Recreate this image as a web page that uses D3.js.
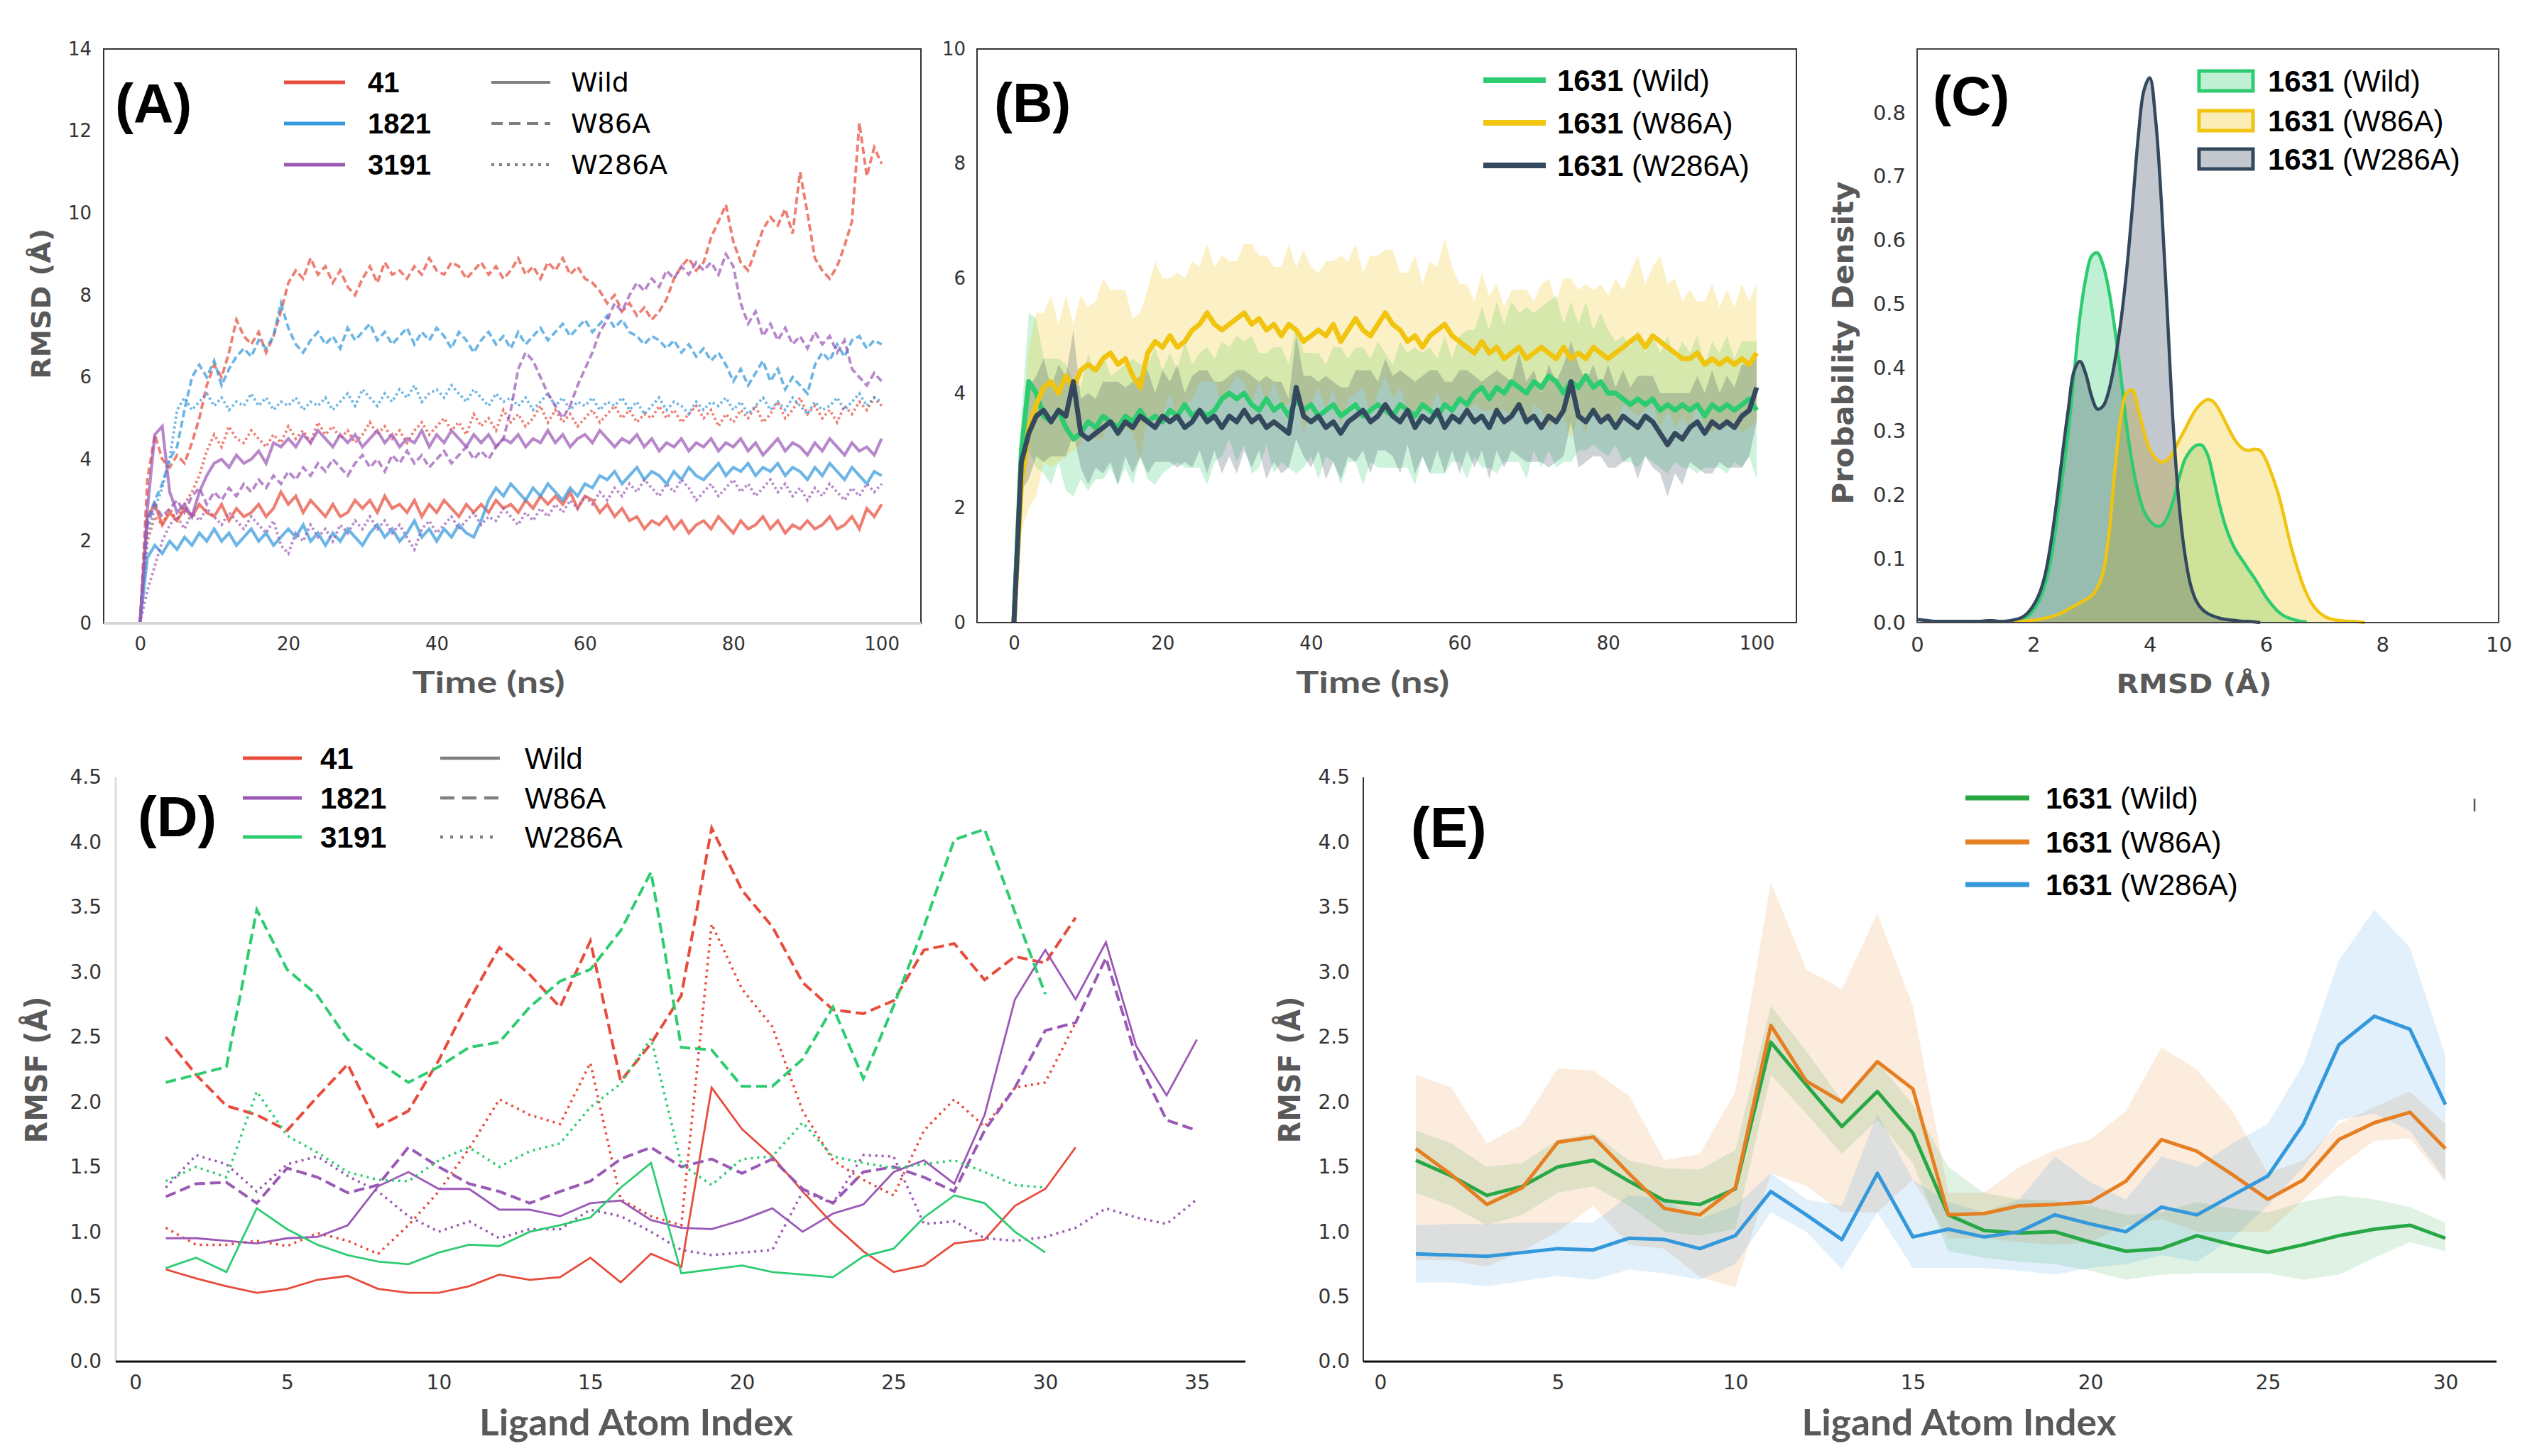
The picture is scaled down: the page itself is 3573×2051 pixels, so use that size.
<!DOCTYPE html>
<html>
<head>
<meta charset="utf-8">
<title>RMSD / RMSF panels</title>
<script src="https://cdn.jsdelivr.net/npm/d3@7"></script>
<style>
  html, body { margin: 0; padding: 0; background: #fff; }
  svg { display: block; }
</style>
</head>
<body>
<svg id="fig" width="3573" height="2051"></svg>
<script>
// ---------------- data ----------------
// (A) ligand RMSD, 1 ns steps, 0..100 ns
var timeNs = d3.range(0, 101);
var rmsd41Wild = [0,
 2.6,2.9,2.4,2.7,2.5,2.8,2.6,2.9,2.7,2.6, 2.9,2.5,2.8,2.6,2.7,2.9,2.6,2.8,3.2,2.9,
 3.1,2.7,3.0,2.8,2.6,2.9,2.6,2.7,3.0,2.8, 3.0,2.7,3.1,2.8,2.9,2.7,3.0,2.6,2.9,2.7,
 3.0,2.8,2.6,2.9,2.7,2.9,2.7,3.0,2.8,2.9, 2.7,3.0,2.8,3.1,2.9,3.1,2.9,3.2,2.8,3.1,
 3.0,2.7,2.9,2.6,2.8,2.5,2.6,2.3,2.5,2.4, 2.6,2.3,2.5,2.2,2.4,2.5,2.3,2.6,2.4,2.2,
 2.5,2.3,2.4,2.6,2.3,2.5,2.2,2.4,2.3,2.5, 2.3,2.4,2.6,2.3,2.4,2.6,2.3,2.8,2.6,2.9];
var rmsd41W86A = [0,
 3.5,4.6,4.0,3.8,4.1,3.9,4.4,5.0,5.8,6.3, 6.0,6.6,7.4,7.0,6.8,7.1,6.6,7.0,7.6,8.3,
 8.6,8.4,8.9,8.5,8.7,8.3,8.6,8.2,8.0,8.4, 8.7,8.3,8.8,8.5,8.6,8.4,8.7,8.5,8.9,8.6,
 8.5,8.8,8.7,8.4,8.6,8.8,8.5,8.7,8.4,8.6, 8.9,8.5,8.7,8.4,8.8,8.6,8.9,8.5,8.7,8.4,
 8.3,8.1,7.8,8.0,7.6,7.8,7.5,7.7,7.4,7.6, 7.9,8.4,8.7,8.9,8.6,8.8,9.4,9.8,10.2,9.3,
 8.8,8.6,9.1,9.6,9.9,9.7,10.1,9.5,11.0,10.0, 8.9,8.6,8.4,8.7,9.2,9.8,12.2,10.9,11.6,11.2];
var rmsd41W286A = [0,
 2.0,2.6,2.4,2.8,2.5,2.9,3.2,3.6,4.2,4.6, 4.3,4.8,4.5,4.4,4.7,4.5,4.3,4.6,4.4,4.8,
 4.5,4.7,4.4,4.9,4.6,4.8,4.5,4.7,4.4,4.6, 4.9,4.6,4.8,4.5,4.7,4.4,4.7,4.9,4.6,4.8,
 5.0,4.7,4.9,4.6,5.1,4.8,5.0,4.7,5.2,4.9, 5.1,4.8,5.0,5.3,4.9,5.2,4.9,5.1,4.8,5.0,
 5.2,4.9,5.1,5.3,5.0,5.2,4.9,5.1,5.0,5.3, 5.0,5.2,4.9,5.1,5.3,5.0,5.2,4.8,5.1,4.9,
 5.2,5.0,5.3,4.9,5.1,5.4,5.0,5.2,5.5,5.1, 5.3,5.0,5.2,4.9,5.3,5.1,5.4,5.2,5.5,5.3];
var rmsd1821Wild = [0,
 1.6,1.9,1.7,2.0,1.8,2.1,1.9,2.2,2.0,2.3, 2.0,2.2,1.9,2.1,2.3,2.0,2.2,1.9,2.1,2.3,
 2.1,2.4,2.0,2.2,1.9,2.2,2.0,2.3,2.1,1.9, 2.2,2.4,2.1,2.3,2.0,2.2,2.5,2.1,2.3,2.0,
 2.3,2.1,2.4,2.2,2.1,2.5,3.0,3.3,3.1,3.4, 3.2,3.0,3.3,3.1,3.4,3.2,3.0,3.3,3.1,3.4,
 3.3,3.6,3.5,3.7,3.4,3.6,3.8,3.5,3.7,3.6, 3.4,3.7,3.5,3.8,3.6,3.5,3.7,3.9,3.6,3.8,
 3.7,3.9,3.6,3.8,3.7,3.9,3.6,3.8,3.7,3.5, 3.8,3.6,3.9,3.7,3.5,3.8,3.6,3.4,3.7,3.6];
var rmsd1821W86A = [0,
 2.5,3.0,3.4,4.0,4.3,5.2,6.0,6.3,6.0,6.4, 5.8,6.2,6.5,6.7,6.5,6.9,6.7,7.0,7.8,7.2,
 6.8,6.6,6.9,7.1,6.8,7.0,6.7,7.2,6.9,7.1, 7.3,6.9,7.1,6.8,7.0,7.2,6.8,7.1,6.9,7.2,
 7.0,6.7,7.1,6.9,6.6,6.9,7.1,6.8,7.0,6.7, 7.1,6.8,7.0,7.2,6.9,7.1,7.3,7.0,7.2,7.4,
 7.1,7.3,7.5,7.2,7.4,7.1,7.0,6.8,7.0,6.9, 6.7,6.9,6.6,6.8,6.5,6.7,6.4,6.6,6.3,5.9,
 6.2,5.8,6.1,6.4,5.9,6.2,5.7,6.0,5.8,5.6, 6.3,6.6,6.4,6.8,6.5,6.9,7.0,6.7,6.9,6.8];
var rmsd1821W286A = [0,
 2.2,2.8,3.3,4.0,5.2,5.5,5.2,5.4,5.6,5.3, 5.5,5.2,5.4,5.3,5.6,5.3,5.5,5.2,5.4,5.3,
 5.5,5.2,5.4,5.3,5.5,5.2,5.4,5.6,5.3,5.7, 5.5,5.3,5.6,5.4,5.7,5.5,5.8,5.4,5.6,5.7,
 5.5,5.8,5.6,5.4,5.7,5.5,5.3,5.6,5.4,5.5, 5.3,5.5,5.2,5.4,5.6,5.3,5.5,5.2,5.4,5.3,
 5.5,5.2,5.4,5.3,5.5,5.2,5.4,5.1,5.3,5.5, 5.2,5.4,5.3,5.1,5.4,5.2,5.4,5.3,5.5,5.2,
 5.4,5.1,5.3,5.5,5.2,5.4,5.2,5.5,5.3,5.1, 5.4,5.2,5.3,5.5,5.2,5.4,5.6,5.3,5.5,5.4];
var rmsd3191Wild = [0,
 2.8,4.6,4.8,3.2,2.7,2.9,2.6,3.2,3.6,3.9, 4.0,3.8,4.1,3.9,4.0,4.2,3.9,4.4,4.3,4.5,
 4.3,4.6,4.4,4.7,4.5,4.3,4.6,4.4,4.6,4.3, 4.5,4.7,4.4,4.6,4.3,4.5,4.4,4.7,4.3,4.6,
 4.4,4.7,4.5,4.3,4.6,4.4,4.6,4.3,4.5,4.4, 4.6,4.3,4.5,4.4,4.7,4.4,4.6,4.3,4.5,4.6,
 4.4,4.7,4.5,4.3,4.5,4.4,4.6,4.3,4.5,4.2, 4.4,4.3,4.5,4.2,4.4,4.3,4.5,4.2,4.4,4.3,
 4.5,4.2,4.4,4.1,4.3,4.5,4.2,4.4,4.3,4.1, 4.4,4.2,4.5,4.3,4.1,4.4,4.2,4.3,4.1,4.5];
var rmsd3191W86A = [0,
 2.4,2.9,2.6,2.8,3.0,2.7,3.1,3.3,2.9,3.2, 3.0,3.3,3.1,3.4,3.2,3.5,3.3,3.6,3.4,3.7,
 3.5,3.8,3.6,3.9,3.7,4.0,3.8,3.6,3.9,4.1, 3.8,4.0,3.7,4.1,3.9,4.2,3.9,4.1,3.8,4.0,
 4.2,3.9,4.1,4.3,4.0,4.2,4.0,4.3,4.5,5.2, 6.2,6.6,6.4,6.0,5.6,5.3,5.0,5.3,5.8,6.2,
 6.6,7.1,7.4,7.8,7.6,8.0,8.3,8.1,8.4,8.2, 8.6,8.4,8.7,8.5,8.8,8.6,8.8,8.5,9.0,8.7,
 7.8,7.3,7.6,7.0,7.3,6.9,7.2,6.8,7.0,6.7, 7.1,6.8,7.0,6.6,6.9,6.2,6.0,5.8,6.1,5.9];
var rmsd3191W286A = [0,
 0.8,1.4,2.0,2.4,2.6,2.3,2.7,2.5,2.8,2.6, 2.4,2.7,2.5,2.3,2.6,2.4,2.2,2.5,1.9,1.7,
 2.2,2.0,2.4,2.1,2.3,2.0,2.4,2.2,2.5,2.3, 2.6,2.3,2.5,2.2,2.4,2.1,1.8,2.3,2.5,2.2,
 2.4,2.6,2.3,2.5,2.7,2.4,2.6,2.5,2.8,2.6, 2.4,2.7,2.5,2.8,2.6,2.9,2.7,3.0,2.8,3.1,
 2.9,3.2,3.0,3.3,3.1,3.4,3.2,3.5,3.3,3.1, 3.4,3.2,3.5,3.3,3.0,3.2,3.4,3.1,3.3,3.5,
 3.2,3.4,3.1,3.3,3.5,3.2,3.4,3.1,3.3,3.0, 3.3,3.1,3.4,3.2,3.0,3.3,3.1,3.4,3.2,3.4];

// (B) 1631 RMSD mean and spread
var wildMean = [0,
 3.0,4.2,4.0,3.6,3.5,3.7,3.4,3.2,3.3,3.5, 3.4,3.6,3.5,3.4,3.6,3.5,3.7,3.5,3.6,3.5,
 3.7,3.6,3.8,3.6,3.7,3.6,3.7,3.9,4.0,3.9, 4.0,3.8,3.7,3.9,3.7,3.8,3.6,3.9,3.7,3.8,
 3.6,3.7,3.8,3.6,3.7,3.8,3.6,3.7,3.8,3.7, 3.6,3.8,3.7,3.6,3.8,3.7,3.6,3.8,3.7,3.9,
 3.8,4.0,4.1,3.9,4.1,4.0,4.2,4.1,4.0,4.2, 4.1,4.3,4.2,4.0,4.2,4.1,4.3,4.1,4.2,4.0,
 4.0,3.9,3.8,3.9,3.8,3.9,3.7,3.8,3.7,3.8, 3.7,3.8,3.6,3.8,3.7,3.8,3.7,3.8,3.9,3.7];
var wildSd = [0,
 0.6,1.2,1.3,1.0,1.1,0.9,1.1,1.0,0.8,1.2, 0.9,1.1,0.8,1.0,0.9,1.1,0.8,1.0,1.2,0.9,
 1.0,0.8,1.1,0.9,1.0,1.2,0.9,1.0,0.8,1.1, 0.9,1.2,1.0,0.8,1.1,1.0,0.9,1.3,1.0,0.9,
 1.1,0.8,1.0,1.2,0.9,1.0,1.2,0.9,1.1,1.0, 0.9,1.1,1.0,1.2,0.9,1.1,1.0,1.2,0.9,1.1,
 1.3,1.1,1.4,1.2,1.5,1.2,1.4,1.3,1.5,1.2, 1.4,1.3,1.5,1.2,1.4,1.1,1.3,1.0,1.2,1.1,
 0.9,1.1,1.0,1.2,0.9,1.1,1.0,1.2,0.9,1.1, 1.0,1.2,0.9,1.1,1.0,1.2,0.9,1.1,1.0,1.2];
var w86aMean = [0,
 2.4,3.4,3.8,4.1,4.2,4.0,4.3,4.1,4.4,4.5, 4.4,4.6,4.7,4.5,4.6,4.3,4.1,4.7,4.9,4.8,
 5.0,4.8,4.9,5.1,5.2,5.4,5.2,5.1,5.2,5.3, 5.4,5.2,5.3,5.1,5.2,5.0,5.2,5.1,4.9,5.0,
 5.1,5.0,5.2,4.9,5.1,5.3,5.1,5.0,5.2,5.4, 5.2,5.1,4.9,5.0,4.8,5.0,5.1,5.2,5.0,4.9,
 4.8,4.7,4.9,4.7,4.8,4.6,4.7,4.8,4.6,4.7, 4.8,4.7,4.6,4.8,4.6,4.7,4.6,4.8,4.7,4.6,
 4.7,4.8,4.9,5.0,4.8,5.0,4.9,4.8,4.7,4.6, 4.6,4.7,4.5,4.6,4.5,4.6,4.5,4.6,4.5,4.7];
var w86aSd = [0,
 0.8,1.4,1.6,1.3,1.5,1.2,1.4,1.1,1.3,1.0, 1.2,1.4,1.1,1.3,1.2,1.0,1.3,1.1,1.4,1.2,
 1.0,1.3,1.1,1.2,1.0,1.2,1.0,1.3,1.1,1.0, 1.2,1.4,1.1,1.3,1.0,1.2,1.4,1.1,1.6,1.2,
 1.0,1.3,1.1,1.5,1.2,1.3,1.0,1.4,1.2,1.1, 1.3,1.0,1.2,1.4,1.1,1.3,1.1,1.5,1.2,1.0,
 1.1,0.9,1.2,1.0,1.1,0.9,1.1,1.0,1.2,0.9, 1.1,1.3,1.0,1.2,1.4,1.1,1.3,1.0,1.2,1.1,
 1.3,1.0,1.2,1.4,1.1,1.2,1.5,1.1,1.3,1.0, 1.2,0.9,1.1,1.3,1.0,1.2,1.0,1.3,1.1,1.2];
var w286aMean = [0,
 2.8,3.3,3.6,3.7,3.5,3.7,3.6,4.2,3.3,3.2, 3.3,3.4,3.5,3.3,3.5,3.4,3.6,3.5,3.4,3.6,
 3.5,3.6,3.4,3.5,3.7,3.5,3.6,3.4,3.6,3.5, 3.7,3.5,3.6,3.4,3.5,3.4,3.3,4.1,3.6,3.5,
 3.6,3.4,3.5,3.3,3.5,3.6,3.7,3.5,3.6,3.8, 3.6,3.5,3.7,3.4,3.6,3.5,3.7,3.4,3.6,3.5,
 3.7,3.5,3.6,3.4,3.7,3.5,3.6,3.8,3.5,3.6, 3.4,3.6,3.5,3.7,4.2,3.6,3.5,3.7,3.5,3.6,
 3.4,3.6,3.5,3.4,3.6,3.5,3.3,3.1,3.3,3.2, 3.4,3.5,3.3,3.5,3.4,3.5,3.4,3.6,3.7,4.1];
var w286aSd = [0,
 0.5,0.8,0.7,0.9,0.6,0.8,0.7,0.9,0.6,0.8, 0.6,0.8,0.7,0.9,0.6,0.8,0.7,0.9,0.6,0.8,
 0.7,0.9,0.6,0.8,0.7,0.9,0.6,0.8,0.7,0.9, 0.7,0.8,0.6,0.9,0.7,0.8,0.6,0.9,0.7,0.8,
 0.6,0.9,0.7,0.8,0.6,0.8,0.7,0.9,0.6,0.8, 0.7,0.9,0.6,0.8,0.7,0.9,0.7,0.8,0.6,0.9,
 0.7,0.8,0.6,0.9,0.7,0.8,0.6,0.9,0.7,0.8, 0.6,0.9,0.7,0.8,0.7,0.9,0.7,0.8,0.6,0.9,
 0.7,0.8,0.6,0.9,0.7,0.8,0.7,0.9,0.7,0.8, 0.6,0.8,0.7,0.9,0.6,0.8,0.7,0.9,0.8,0.6];

// (C) RMSD density, grid 0..8 A in 0.1 steps (null = outside curve)
var kdeGrid = d3.range(0, 81).map(function(i) { return i / 10; });
var kdeWild = [
 null,null,null,null,null,null,null,null,null,null,
 null,null,null,null,null,null,null,0.002,0.005,0.01,
 0.02,0.035,0.06,0.10,0.16,0.23,0.30,0.39,0.48,0.54,
 0.575,0.58,0.56,0.52,0.46,0.39,0.31,0.25,0.205,0.175,
 0.16,0.152,0.152,0.165,0.19,0.225,0.255,0.27,0.278,0.278,
 0.262,0.225,0.185,0.152,0.128,0.11,0.097,0.083,0.07,0.055,
 0.04,0.028,0.018,0.011,0.007,0.004,0.002,0.001,null,null,
 null,null,null,null,null,null,null,null,null,null, null];
var kdeW86A = [
 null,null,null,null,null,null,null,null,null,0.001,
 0.002,0.002,0.002,0.002,0.002,0.002,0.002,0.002,0.002,0.003,
 0.004,0.005,0.007,0.009,0.012,0.016,0.021,0.026,0.031,0.036,
 0.042,0.055,0.08,0.14,0.24,0.32,0.36,0.365,0.335,0.30,
 0.272,0.258,0.252,0.255,0.267,0.285,0.302,0.32,0.335,0.345,
 0.35,0.346,0.333,0.315,0.297,0.282,0.273,0.27,0.272,0.27,
 0.255,0.232,0.205,0.17,0.13,0.097,0.068,0.045,0.028,0.017,
 0.01,0.006,0.004,0.003,0.002,0.002,0.001,0,null,null, null];
var kdeW286A = [
 0.005,0.004,0.003,0.002,0.002,0.002,0.002,0.002,0.002,0.002,
 0.002,0.002,0.003,0.003,0.002,0.002,0.003,0.005,0.008,0.015,
 0.027,0.045,0.075,0.125,0.19,0.265,0.335,0.395,0.41,0.39,
 0.355,0.335,0.34,0.365,0.41,0.47,0.55,0.65,0.76,0.835,
 0.855,0.79,0.66,0.49,0.315,0.19,0.11,0.06,0.034,0.021,
 0.014,0.01,0.007,0.005,0.004,0.003,0.002,0.002,0.001,0,
 null,null,null,null,null,null,null,null,null,null,
 null,null,null,null,null,null,null,null,null,null, null];

// (D) ligand RMSF per atom
var rmsf41Wild   = [0.71,0.64,0.58,0.53,0.56,0.63,0.66,0.56,0.53,0.53,0.58,0.67,0.63,0.65,0.80,0.61,0.83,0.73,2.11,1.79,1.58,1.31,1.06,0.85,0.69,0.74,0.91,0.94,1.20,1.33,1.65];
var rmsf41W86A   = [2.50,2.21,1.97,1.90,1.78,2.04,2.29,1.81,1.93,2.32,2.78,3.19,2.98,2.73,3.24,2.16,2.45,2.82,4.11,3.63,3.35,2.92,2.71,2.68,2.78,3.17,3.22,2.94,3.12,3.07,3.42];
var rmsf41W286A  = [1.03,0.90,0.90,0.93,0.89,0.99,0.93,0.83,1.05,1.31,1.64,2.02,1.90,1.83,2.30,1.25,1.12,1.05,3.37,2.87,2.58,1.93,1.55,1.40,1.28,1.78,2.02,1.81,2.11,2.15,2.61];
var rmsf1821Wild  = [0.95,0.95,0.93,0.91,0.95,0.96,1.05,1.35,1.46,1.33,1.33,1.17,1.17,1.12,1.22,1.24,1.09,1.03,1.02,1.09,1.18,1.00,1.14,1.21,1.46,1.55,1.37,1.90,2.79,3.17,2.79,3.23,2.43,2.05,2.48];
var rmsf1821W86A  = [1.27,1.37,1.38,1.22,1.49,1.42,1.30,1.36,1.65,1.50,1.37,1.31,1.22,1.31,1.39,1.56,1.65,1.50,1.56,1.45,1.56,1.33,1.22,1.46,1.50,1.42,1.31,1.78,2.11,2.55,2.61,3.11,2.34,1.86,1.78];
var rmsf1821W286A = [1.34,1.59,1.52,1.31,1.52,1.58,1.43,1.31,1.12,1.00,1.08,0.95,1.02,1.02,1.17,1.12,1.00,0.86,0.82,0.84,0.86,1.31,1.22,1.59,1.58,1.06,1.08,0.95,0.93,0.96,1.03,1.18,1.11,1.06,1.25];
var rmsf3191Wild  = [0.72,0.80,0.69,1.18,1.02,0.90,0.82,0.77,0.75,0.84,0.90,0.89,1.00,1.05,1.11,1.34,1.53,0.68,0.71,0.74,0.69,0.67,0.65,0.81,0.87,1.11,1.28,1.22,1.00,0.84];
var rmsf3191W86A  = [2.15,2.21,2.27,3.48,3.02,2.82,2.48,2.31,2.15,2.27,2.42,2.46,2.73,2.93,3.02,3.32,3.77,2.42,2.40,2.12,2.12,2.33,2.73,2.18,2.74,3.35,4.02,4.10,3.46,2.83];
var rmsf3191W286A = [1.39,1.50,1.42,2.08,1.74,1.61,1.46,1.40,1.39,1.55,1.65,1.50,1.62,1.68,1.96,2.14,2.49,1.52,1.36,1.56,1.58,1.84,1.58,1.53,1.49,1.52,1.55,1.46,1.36,1.34];

// (E) 1631 RMSF mean with band
var eWildMean = [1.55,1.43,1.28,1.35,1.50,1.55,1.39,1.24,1.21,1.33,2.46,2.13,1.81,2.08,1.76,1.13,1.01,0.99,1.00,0.92,0.85,0.87,0.97,0.90,0.84,0.90,0.97,1.02,1.05,0.95];
var eWildLo   = [1.30,1.20,1.05,1.13,1.30,1.35,1.20,1.00,0.97,1.02,2.21,1.91,1.60,1.86,1.53,0.85,0.80,0.77,0.75,0.70,0.63,0.67,0.68,0.68,0.68,0.63,0.67,0.80,0.92,0.85];
var eWildHi   = [1.78,1.68,1.50,1.53,1.71,1.76,1.55,1.49,1.48,1.63,2.74,2.39,2.01,2.31,1.98,1.50,1.30,1.25,1.24,1.20,1.13,1.15,1.23,1.18,1.15,1.23,1.28,1.25,1.19,1.07];
var eW86AMean = [1.64,1.44,1.21,1.34,1.69,1.73,1.45,1.18,1.13,1.34,2.59,2.16,2.00,2.31,2.10,1.13,1.14,1.20,1.21,1.23,1.39,1.71,1.62,1.44,1.25,1.40,1.71,1.84,1.92,1.64];
var eW86ALo   = [0.78,0.78,0.73,0.85,1.00,1.20,0.90,0.87,0.65,0.57,1.45,1.35,1.15,1.15,1.40,0.95,0.95,0.92,0.90,0.92,1.05,1.10,1.00,1.00,1.00,1.25,1.50,1.70,1.72,1.38];
var eW86AHi   = [2.21,2.11,1.68,1.83,2.26,2.24,2.05,1.55,1.60,2.08,3.69,3.02,2.87,3.45,2.74,1.30,1.30,1.50,1.63,1.71,1.93,2.42,2.25,1.93,1.45,1.55,1.83,1.96,2.08,1.83];
var eW286AMean = [0.83,0.82,0.81,0.84,0.87,0.86,0.95,0.94,0.87,0.97,1.31,1.13,0.94,1.45,0.96,1.02,0.96,1.00,1.13,1.06,1.00,1.19,1.13,1.28,1.43,1.83,2.44,2.66,2.56,1.98];
var eW286ALo   = [0.61,0.61,0.58,0.62,0.66,0.63,0.71,0.68,0.63,0.75,1.15,1.00,0.71,1.15,0.72,0.72,0.72,0.70,0.67,0.72,0.75,0.82,0.77,0.95,1.20,1.50,1.86,1.91,1.78,1.40];
var eW286AHi   = [1.05,1.06,1.06,1.07,1.07,1.07,1.28,1.25,1.10,1.20,1.45,1.25,1.20,1.91,1.40,1.23,1.15,1.25,1.58,1.38,1.25,1.58,1.50,1.68,1.83,2.29,3.09,3.48,3.19,2.36];

// tick values
var ticksA = d3.range(0, 15, 2), ticksTime = [0, 20, 40, 60, 80, 100];
var ticksB = d3.range(0, 11, 2);
var ticksCy = d3.range(0, 9).map(function(i) { return i / 10; }), ticksCx = [0, 2, 4, 6, 8, 10];
var ticksRmsf = d3.range(0, 10).map(function(i) { return i / 2; });
var ticksD = [0, 5, 10, 15, 20, 25, 30, 35], ticksE = [0, 5, 10, 15, 20, 25, 30];

// ---------------- drawing ----------------
var svg = d3.select("#fig");
var ARIAL = "'Liberation Sans', Arial, Helvetica, sans-serif";
var WIDE = "'DejaVu Sans', Verdana, sans-serif";
var CAL = "Lato, 'Open Sans', sans-serif";
var GREYT = "#595959";

var RED = "#e74c3c", BLUE = "#3498db", PURPLE = "#9b59b6";
var GREEN = "#2ecc71", YELLOW = "#f1c40f", NAVY = "#34495e";
var EGREEN = "#28a745", EORANGE = "#e67e22", EBLUE = "#3498db";

function axes(g, x, y, o) {
  var ay = g.append("g").attr("transform", "translate(" + o.yAt + ",0)")
    .call(d3.axisLeft(y).tickValues(o.yTicks).tickSize(0).tickPadding(o.yPad).tickFormat(o.yFmt || d3.format("d")));
  var ax = g.append("g").attr("transform", "translate(0," + o.xAt + ")")
    .call(d3.axisBottom(x).tickValues(o.xTicks).tickSize(0).tickPadding(o.xPad).tickFormat(d3.format("d")));
  [ax, ay].forEach(function(a) {
    a.select(".domain").remove();
    a.selectAll("text").attr("fill", "#333")
      .style("font-family", WIDE).style("font-size", o.size + "px");
  });
}

function txt(g, s, x, y, o) {
  var t = g.append("text").attr("x", x).attr("y", y)
    .attr("text-anchor", o.anchor || "start").attr("dominant-baseline", "central")
    .style("font-family", o.font || ARIAL).style("font-size", o.size + "px")
    .style("font-weight", o.weight || "normal").attr("fill", o.fill || "#000").text(s);
  if (o.len) t.attr("textLength", o.len).attr("lengthAdjust", "spacingAndGlyphs");
  return t;
}

function vtxt(g, s, cx, cy, o) {
  var t = g.append("text").attr("transform", "translate(" + cx + "," + cy + ") rotate(-90)")
    .attr("text-anchor", "middle").attr("dominant-baseline", "central")
    .style("font-family", o.font || WIDE).style("font-size", o.size + "px")
    .style("font-weight", "bold").attr("fill", GREYT).text(s);
  if (o.len) t.attr("textLength", o.len).attr("lengthAdjust", "spacingAndGlyphs");
}

function mixed(g, bold, rest, x, y) {
  var t = g.append("text").attr("x", x).attr("y", y).attr("dominant-baseline", "central")
    .style("font-family", ARIAL).style("font-size", "42px").attr("fill", "#000");
  t.append("tspan").style("font-weight", "bold").text(bold);
  t.append("tspan").text(rest);
}

function clip(id, x0, y0, x1, y1) {
  svg.append("clipPath").attr("id", id).append("rect")
    .attr("x", x0).attr("y", y0).attr("width", x1 - x0).attr("height", y1 - y0);
}

// ===== (A) =====
(function() {
  var x0 = 146, x1 = 1297, y0 = 69, y1 = 878;
  var x = d3.scaleLinear().domain([-4.9, 105.3]).range([x0, x1]);
  var y = d3.scaleLinear().domain([0, 14]).range([y1, y0]);
  var g = svg.append("g");
  clip("clipA", x0, y0, x1, y1);
  var line = d3.line().x(function(d, i) { return x(timeNs[i]); }).y(function(d) { return y(d); });
  var series = [
    [rmsd41Wild, RED, null], [rmsd41W86A, RED, "10,5"], [rmsd41W286A, RED, "3,4"],
    [rmsd1821Wild, BLUE, null], [rmsd1821W86A, BLUE, "10,5"], [rmsd1821W286A, BLUE, "3,4"],
    [rmsd3191Wild, PURPLE, null], [rmsd3191W86A, PURPLE, "10,5"], [rmsd3191W286A, PURPLE, "3,4"]
  ];
  var pg = g.append("g").attr("clip-path", "url(#clipA)");
  series.forEach(function(s) {
    pg.append("path").attr("d", line(s[0])).attr("fill", "none").attr("stroke", s[1])
      .attr("stroke-width", s[2] ? 3.8 : 4.2).attr("stroke-opacity", 0.72)
      .attr("stroke-dasharray", s[2]);
  });
  g.append("rect").attr("x", x0).attr("y", y0).attr("width", x1 - x0).attr("height", y1 - y0)
    .attr("fill", "none").attr("stroke", "#333").attr("stroke-width", 2);
  g.append("line").attr("x1", x0).attr("x2", x1).attr("y1", y1).attr("y2", y1)
    .attr("stroke", "#d6d6d6").attr("stroke-width", 4);
  axes(g, x, y, {yAt: x0, xAt: y1, yTicks: ticksA, xTicks: ticksTime, yPad: 17, xPad: 20, size: 26});
  txt(g, "Time (ns)", 688, 960, {font: CAL, size: 42, weight: "bold", fill: GREYT, anchor: "middle", len: 215});
  vtxt(g, "RMSD (Å)", 58, 428, {size: 37, len: 212});
  txt(g, "(A)", 162, 146, {size: 78, weight: "bold"});
  var leg = [["41", RED], ["1821", BLUE], ["3191", PURPLE]];
  var styl = [["Wild", null], ["W86A", "16,9"], ["W286A", "4,7"]];
  [116, 174, 232].forEach(function(ly, i) {
    g.append("line").attr("x1", 400).attr("x2", 486).attr("y1", ly).attr("y2", ly)
      .attr("stroke", leg[i][1]).attr("stroke-width", 5);
    txt(g, leg[i][0], 518, ly, {size: 40, weight: "bold"});
    g.append("line").attr("x1", 692).attr("x2", 775).attr("y1", ly).attr("y2", ly)
      .attr("stroke", "#7f7f7f").attr("stroke-width", 4).attr("stroke-dasharray", styl[i][1]);
    txt(g, styl[i][0], 804, ly, {font: WIDE, size: 38});
  });
})();

// ===== (B) =====
(function() {
  var x0 = 1376, x1 = 2530, y0 = 69, y1 = 877;
  var x = d3.scaleLinear().domain([-4.97, 105.35]).range([x0, x1]);
  var y = d3.scaleLinear().domain([0, 10]).range([y1, y0]);
  var g = svg.append("g");
  clip("clipB", x0, y0, x1, y1);
  var pg = g.append("g").attr("clip-path", "url(#clipB)");
  var sets = [[wildMean, wildSd, GREEN], [w86aMean, w86aSd, YELLOW], [w286aMean, w286aSd, NAVY]];
  sets.forEach(function(s) {
    var area = d3.area().x(function(d, i) { return x(timeNs[i]); })
      .y0(function(d, i) { return y(Math.max(0, s[0][i] - s[1][i])); })
      .y1(function(d, i) { return y(s[0][i] + s[1][i]); });
    pg.append("path").attr("d", area(s[0])).attr("fill", s[2]).attr("fill-opacity", 0.24);
  });
  sets.forEach(function(s) {
    var line = d3.line().x(function(d, i) { return x(timeNs[i]); }).y(function(d) { return y(d); });
    pg.append("path").attr("d", line(s[0])).attr("fill", "none").attr("stroke", s[2])
      .attr("stroke-width", 7).attr("stroke-linejoin", "round");
  });
  g.append("rect").attr("x", x0).attr("y", y0).attr("width", x1 - x0).attr("height", y1 - y0)
    .attr("fill", "none").attr("stroke", "#333").attr("stroke-width", 2);
  axes(g, x, y, {yAt: x0, xAt: y1, yTicks: ticksB, xTicks: ticksTime, yPad: 16, xPad: 20, size: 26});
  txt(g, "Time (ns)", 1933, 960, {font: CAL, size: 42, weight: "bold", fill: GREYT, anchor: "middle", len: 216});
  txt(g, "(B)", 1400, 145, {size: 78, weight: "bold"});
  var labs = [" (Wild)", " (W86A)", " (W286A)"];
  [113, 173, 233].forEach(function(ly, i) {
    g.append("line").attr("x1", 2089).attr("x2", 2177).attr("y1", ly).attr("y2", ly)
      .attr("stroke", sets[i][2]).attr("stroke-width", 8);
    mixed(g, "1631", labs[i], 2193, ly);
  });
})();

// ===== (C) =====
(function() {
  var x0 = 2700, x1 = 3519, y0 = 69, y1 = 877;
  var x = d3.scaleLinear().domain([0, 10]).range([x0, x1]);
  var y = d3.scaleLinear().domain([0, 0.9]).range([y1, y0]);
  var g = svg.append("g");
  var curves = [[kdeWild, GREEN], [kdeW86A, YELLOW], [kdeW286A, NAVY]];
  var def = function(d) { return d !== null; };
  curves.forEach(function(c) {
    var area = d3.area().defined(def).curve(d3.curveCatmullRom.alpha(0.5))
      .x(function(d, i) { return x(kdeGrid[i]); }).y0(y(0)).y1(function(d) { return y(d); });
    g.append("path").attr("d", area(c[0])).attr("fill", c[1]).attr("fill-opacity", 0.3);
  });
  curves.forEach(function(c) {
    var line = d3.line().defined(def).curve(d3.curveCatmullRom.alpha(0.5))
      .x(function(d, i) { return x(kdeGrid[i]); }).y(function(d) { return y(d); });
    g.append("path").attr("d", line(c[0])).attr("fill", "none").attr("stroke", c[1]).attr("stroke-width", 4.5);
  });
  g.append("rect").attr("x", x0).attr("y", y0).attr("width", x1 - x0).attr("height", y1 - y0)
    .attr("fill", "none").attr("stroke", "#444").attr("stroke-width", 2);
  axes(g, x, y, {yAt: x0, xAt: y1, yTicks: ticksCy, xTicks: ticksCx, yPad: 16, xPad: 20, size: 29, yFmt: d3.format(".1f")});
  txt(g, "RMSD (Å)", 3090, 963, {font: WIDE, size: 37, weight: "bold", fill: GREYT, anchor: "middle", len: 219});
  vtxt(g, "Probability Density", 2596, 483, {size: 40, len: 455});
  txt(g, "(C)", 2722, 135, {size: 78, weight: "bold"});
  var labs = [" (Wild)", " (W86A)", " (W286A)"];
  [114, 170, 224].forEach(function(ly, i) {
    g.append("rect").attr("x", 3097).attr("y", ly - 14).attr("width", 76).attr("height", 28)
      .attr("fill", curves[i][1]).attr("fill-opacity", 0.3)
      .attr("stroke", curves[i][1]).attr("stroke-width", 5);
    mixed(g, "1631", labs[i], 3194, ly);
  });
})();

// ===== (D) =====
(function() {
  var x0 = 163, x1 = 1754, y0 = 1095, y1 = 1918;
  var x = d3.scaleLinear().domain([-0.65, 36.6]).range([x0, x1]);
  var y = d3.scaleLinear().domain([0, 4.5]).range([y1, y0]);
  var g = svg.append("g");
  var series = [
    [rmsf41Wild, RED, "w"], [rmsf41W86A, RED, "d"], [rmsf41W286A, RED, "o"],
    [rmsf1821Wild, PURPLE, "w"], [rmsf1821W86A, PURPLE, "d"], [rmsf1821W286A, PURPLE, "o"],
    [rmsf3191Wild, GREEN, "w"], [rmsf3191W86A, GREEN, "d"], [rmsf3191W286A, GREEN, "o"]
  ];
  var line = d3.line().x(function(d, i) { return x(i + 1); }).y(function(d) { return y(d); });
  series.forEach(function(s) {
    g.append("path").attr("d", line(s[0])).attr("fill", "none").attr("stroke", s[1])
      .attr("stroke-width", s[2] === "w" ? 2.8 : (s[2] === "d" ? 4 : 3.5))
      .attr("stroke-dasharray", s[2] === "w" ? null : (s[2] === "d" ? "15,7" : "3,6"));
  });
  g.append("line").attr("x1", x0).attr("x2", x0).attr("y1", y0).attr("y2", y1)
    .attr("stroke", "#dcdcdc").attr("stroke-width", 3);
  g.append("line").attr("x1", x0).attr("x2", x1).attr("y1", y1).attr("y2", y1)
    .attr("stroke", "#111").attr("stroke-width", 3);
  axes(g, x, y, {yAt: x0, xAt: y1, yTicks: ticksRmsf, xTicks: ticksD, yPad: 20, xPad: 19, size: 28, yFmt: d3.format(".1f")});
  txt(g, "Ligand Atom Index", 896, 2002, {font: CAL, size: 52, weight: "bold", fill: GREYT, anchor: "middle", len: 442});
  vtxt(g, "RMSF (Å)", 51, 1507, {size: 42, len: 207});
  txt(g, "(D)", 194, 1150, {size: 80, weight: "bold"});
  var leg = [["41", RED], ["1821", PURPLE], ["3191", GREEN]];
  var styl = [["Wild", null], ["W86A", "20,11"], ["W286A", "4,10"]];
  [1068, 1124, 1179].forEach(function(ly, i) {
    g.append("line").attr("x1", 342).attr("x2", 425).attr("y1", ly).attr("y2", ly)
      .attr("stroke", leg[i][1]).attr("stroke-width", 5);
    txt(g, leg[i][0], 451, ly, {size: 42, weight: "bold"});
    g.append("line").attr("x1", 620).attr("x2", 704).attr("y1", ly).attr("y2", ly)
      .attr("stroke", "#7f7f7f").attr("stroke-width", 4.5).attr("stroke-dasharray", styl[i][1]);
    txt(g, styl[i][0], 739, ly, {size: 42});
  });
})();

// ===== (E) =====
(function() {
  var x0 = 1920, x1 = 3516, y0 = 1095, y1 = 1918;
  var x = d3.scaleLinear().domain([-0.48, 31.44]).range([x0, x1]);
  var y = d3.scaleLinear().domain([0, 4.5]).range([y1, y0]);
  var g = svg.append("g");
  var sets = [
    [eWildMean, eWildLo, eWildHi, EGREEN],
    [eW86AMean, eW86ALo, eW86AHi, EORANGE],
    [eW286AMean, eW286ALo, eW286AHi, EBLUE]
  ];
  sets.forEach(function(s) {
    var area = d3.area().x(function(d, i) { return x(i + 1); })
      .y0(function(d, i) { return y(s[1][i]); }).y1(function(d, i) { return y(s[2][i]); });
    g.append("path").attr("d", area(s[0])).attr("fill", s[3]).attr("fill-opacity", 0.15);
  });
  sets.forEach(function(s) {
    var line = d3.line().x(function(d, i) { return x(i + 1); }).y(function(d) { return y(d); });
    g.append("path").attr("d", line(s[0])).attr("fill", "none").attr("stroke", s[3])
      .attr("stroke-width", 5).attr("stroke-linejoin", "round");
  });
  g.append("line").attr("x1", x0).attr("x2", x0).attr("y1", y0).attr("y2", y1)
    .attr("stroke", "#333").attr("stroke-width", 2);
  g.append("line").attr("x1", x0).attr("x2", x1).attr("y1", y1).attr("y2", y1)
    .attr("stroke", "#111").attr("stroke-width", 3);
  axes(g, x, y, {yAt: x0, xAt: y1, yTicks: ticksRmsf, xTicks: ticksE, yPad: 19, xPad: 19, size: 28, yFmt: d3.format(".1f")});
  txt(g, "Ligand Atom Index", 2759, 2002, {font: CAL, size: 52, weight: "bold", fill: GREYT, anchor: "middle", len: 443});
  vtxt(g, "RMSF (Å)", 1816, 1507, {size: 42, len: 207});
  txt(g, "(E)", 1987, 1165, {size: 80, weight: "bold"});
  var labs = [" (Wild)", " (W86A)", " (W286A)"];
  [1124, 1186, 1246].forEach(function(ly, i) {
    g.append("line").attr("x1", 2768).attr("x2", 2858).attr("y1", ly).attr("y2", ly)
      .attr("stroke", sets[i][3]).attr("stroke-width", 7);
    mixed(g, "1631", labs[i], 2881, ly);
  });
  g.append("line").attr("x1", 3485).attr("x2", 3485).attr("y1", 1125).attr("y2", 1143)
    .attr("stroke", "#555").attr("stroke-width", 2.5);
})();
</script>
</body>
</html>
